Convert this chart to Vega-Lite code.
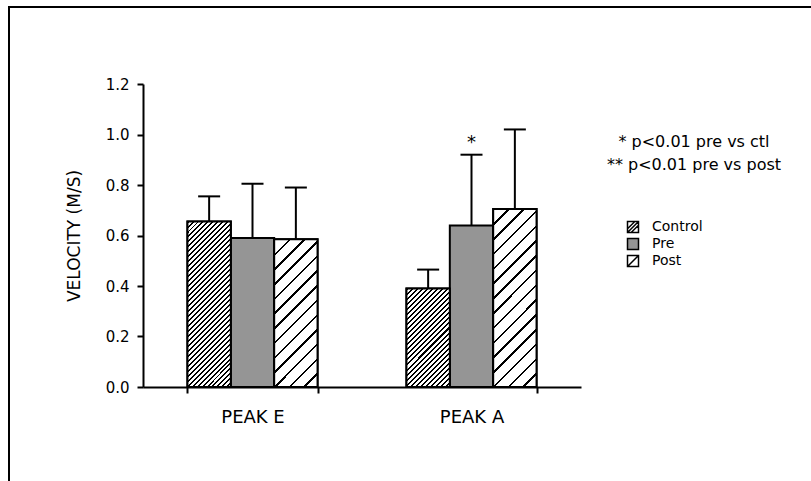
{
  "$schema": "https://vega.github.io/schema/vega-lite/v6.json",
  "width": 802,
  "height": 474,
  "autosize": {"type": "none"},
  "padding": {"left": 9, "top": 7, "right": 0, "bottom": 0},
  "background": "white",
  "config": {
    "font": "DejaVu Sans",
    "view": {"stroke": "black", "strokeWidth": 2, "strokeDash": [802, 1276, 474]},
    "axis": {"domainColor": "black", "domainWidth": 2, "tickColor": "black", "tickWidth": 2, "labelColor": "black", "titleColor": "black", "grid": false, "labelFont": "DejaVu Sans", "titleFont": "DejaVu Sans", "labelFontSize": 15, "titleFontSize": 17, "titleFontWeight": "normal"},
    "legend": {"labelFont": "DejaVu Sans", "labelFontSize": 15, "labelColor": "black"}
  },
  "data": {"values": [
    {"peak": "PEAK E", "group": "Control", "value": 0.655, "upper": 0.755, "sig": ""},
    {"peak": "PEAK E", "group": "Pre", "value": 0.59, "upper": 0.805, "sig": ""},
    {"peak": "PEAK E", "group": "Post", "value": 0.585, "upper": 0.79, "sig": ""},
    {"peak": "PEAK A", "group": "Control", "value": 0.39, "upper": 0.465, "sig": ""},
    {"peak": "PEAK A", "group": "Pre", "value": 0.64, "upper": 0.92, "sig": "*"},
    {"peak": "PEAK A", "group": "Post", "value": 0.705, "upper": 1.02, "sig": ""}
  ]},
  "layer": [
    {
      "mark": {"type": "bar", "stroke": "black", "strokeWidth": 2},
      "encoding": {
        "x": {"field": "peak", "type": "nominal", "scale": {"domain": ["PEAK E", "PEAK A"], "range": [134, 572], "paddingInner": 0.406, "paddingOuter": 0.203}, "axis": {"title": null, "orient": "bottom", "offset": -94, "tickBand": "extent", "tickSize": 6, "labelPadding": 15, "labelAngle": 0, "labelFontSize": 18}},
        "xOffset": {"field": "group", "type": "nominal", "scale": {"domain": ["Control", "Pre", "Post"]}},
        "y": {"field": "value", "type": "quantitative", "scale": {"domain": [0, 1.2], "range": [380, 77], "nice": false}, "axis": {"title": "VELOCITY (M/S)", "offset": -134, "values": [0, 0.1, 0.2, 0.3, 0.4, 0.5, 0.6, 0.7, 0.8, 0.9, 1, 1.1, 1.2], "labelExpr": "round(datum.value*10) % 2 === 0 ? format(datum.value, '.1f') : ''", "tickSize": 6, "labelPadding": 8, "titlePadding": 22, "labelOverlap": false, "labelFlush": false}},
        "fill": {"field": "group", "type": "nominal", "scale": {"domain": ["Control", "Pre", "Post"], "range": ["#ffffff", "#959595", "#ffffff"]}, "legend": {"title": null, "orient": "none", "legendX": 617, "legendY": 213, "direction": "vertical", "symbolSize": 121, "symbolStrokeColor": "black", "symbolStrokeWidth": 1.5, "labelOffset": 12, "rowPadding": -1, "padding": 0, "labelFontSize": 14, "encode": {"symbols": {"update": {"shape": {"signal": "datum.value === 'Control' ? 'M-1,-1H1V1H-1Z M-1,0.33L0.33,-1 M-1,1L1,-1 M-0.33,1L1,-0.33' : datum.value === 'Post' ? 'M-1,-1H1V1H-1Z M-1,1L1,-1' : 'square'"}, "stroke": {"value": "black"}, "strokeWidth": {"value": 1.5}}}}}}
      }
    },
    {
      "transform": [{"filter": "datum.peak === 'PEAK E' && datum.group === 'Control'"}],
      "mark": {"type": "bar", "stroke": "black", "strokeWidth": 2, "fill": {"gradient": "linear", "x1": 0, "y1": 0, "x2": 0.3102, "y2": 1.1813, "stops": [
        {"offset": 0, "color": "#000"}, {"offset": 0.00952, "color": "#000"}, {"offset": 0.00952, "color": "#fff"}, {"offset": 0.02381, "color": "#fff"},
        {"offset": 0.02381, "color": "#000"}, {"offset": 0.03333, "color": "#000"}, {"offset": 0.03333, "color": "#fff"}, {"offset": 0.04762, "color": "#fff"},
        {"offset": 0.04762, "color": "#000"}, {"offset": 0.05714, "color": "#000"}, {"offset": 0.05714, "color": "#fff"}, {"offset": 0.07143, "color": "#fff"},
        {"offset": 0.07143, "color": "#000"}, {"offset": 0.08095, "color": "#000"}, {"offset": 0.08095, "color": "#fff"}, {"offset": 0.09524, "color": "#fff"},
        {"offset": 0.09524, "color": "#000"}, {"offset": 0.10476, "color": "#000"}, {"offset": 0.10476, "color": "#fff"}, {"offset": 0.11905, "color": "#fff"},
        {"offset": 0.11905, "color": "#000"}, {"offset": 0.12857, "color": "#000"}, {"offset": 0.12857, "color": "#fff"}, {"offset": 0.14286, "color": "#fff"},
        {"offset": 0.14286, "color": "#000"}, {"offset": 0.15238, "color": "#000"}, {"offset": 0.15238, "color": "#fff"}, {"offset": 0.16667, "color": "#fff"},
        {"offset": 0.16667, "color": "#000"}, {"offset": 0.17619, "color": "#000"}, {"offset": 0.17619, "color": "#fff"}, {"offset": 0.19048, "color": "#fff"},
        {"offset": 0.19048, "color": "#000"}, {"offset": 0.2, "color": "#000"}, {"offset": 0.2, "color": "#fff"}, {"offset": 0.21429, "color": "#fff"},
        {"offset": 0.21429, "color": "#000"}, {"offset": 0.22381, "color": "#000"}, {"offset": 0.22381, "color": "#fff"}, {"offset": 0.2381, "color": "#fff"},
        {"offset": 0.2381, "color": "#000"}, {"offset": 0.24762, "color": "#000"}, {"offset": 0.24762, "color": "#fff"}, {"offset": 0.2619, "color": "#fff"},
        {"offset": 0.2619, "color": "#000"}, {"offset": 0.27143, "color": "#000"}, {"offset": 0.27143, "color": "#fff"}, {"offset": 0.28571, "color": "#fff"},
        {"offset": 0.28571, "color": "#000"}, {"offset": 0.29524, "color": "#000"}, {"offset": 0.29524, "color": "#fff"}, {"offset": 0.30952, "color": "#fff"},
        {"offset": 0.30952, "color": "#000"}, {"offset": 0.31905, "color": "#000"}, {"offset": 0.31905, "color": "#fff"}, {"offset": 0.33333, "color": "#fff"},
        {"offset": 0.33333, "color": "#000"}, {"offset": 0.34286, "color": "#000"}, {"offset": 0.34286, "color": "#fff"}, {"offset": 0.35714, "color": "#fff"},
        {"offset": 0.35714, "color": "#000"}, {"offset": 0.36667, "color": "#000"}, {"offset": 0.36667, "color": "#fff"}, {"offset": 0.38095, "color": "#fff"},
        {"offset": 0.38095, "color": "#000"}, {"offset": 0.39048, "color": "#000"}, {"offset": 0.39048, "color": "#fff"}, {"offset": 0.40476, "color": "#fff"},
        {"offset": 0.40476, "color": "#000"}, {"offset": 0.41429, "color": "#000"}, {"offset": 0.41429, "color": "#fff"}, {"offset": 0.42857, "color": "#fff"},
        {"offset": 0.42857, "color": "#000"}, {"offset": 0.4381, "color": "#000"}, {"offset": 0.4381, "color": "#fff"}, {"offset": 0.45238, "color": "#fff"},
        {"offset": 0.45238, "color": "#000"}, {"offset": 0.4619, "color": "#000"}, {"offset": 0.4619, "color": "#fff"}, {"offset": 0.47619, "color": "#fff"},
        {"offset": 0.47619, "color": "#000"}, {"offset": 0.48571, "color": "#000"}, {"offset": 0.48571, "color": "#fff"}, {"offset": 0.5, "color": "#fff"},
        {"offset": 0.5, "color": "#000"}, {"offset": 0.50952, "color": "#000"}, {"offset": 0.50952, "color": "#fff"}, {"offset": 0.52381, "color": "#fff"},
        {"offset": 0.52381, "color": "#000"}, {"offset": 0.53333, "color": "#000"}, {"offset": 0.53333, "color": "#fff"}, {"offset": 0.54762, "color": "#fff"},
        {"offset": 0.54762, "color": "#000"}, {"offset": 0.55714, "color": "#000"}, {"offset": 0.55714, "color": "#fff"}, {"offset": 0.57143, "color": "#fff"},
        {"offset": 0.57143, "color": "#000"}, {"offset": 0.58095, "color": "#000"}, {"offset": 0.58095, "color": "#fff"}, {"offset": 0.59524, "color": "#fff"},
        {"offset": 0.59524, "color": "#000"}, {"offset": 0.60476, "color": "#000"}, {"offset": 0.60476, "color": "#fff"}, {"offset": 0.61905, "color": "#fff"},
        {"offset": 0.61905, "color": "#000"}, {"offset": 0.62857, "color": "#000"}, {"offset": 0.62857, "color": "#fff"}, {"offset": 0.64286, "color": "#fff"},
        {"offset": 0.64286, "color": "#000"}, {"offset": 0.65238, "color": "#000"}, {"offset": 0.65238, "color": "#fff"}, {"offset": 0.66667, "color": "#fff"},
        {"offset": 0.66667, "color": "#000"}, {"offset": 0.67619, "color": "#000"}, {"offset": 0.67619, "color": "#fff"}, {"offset": 0.69048, "color": "#fff"},
        {"offset": 0.69048, "color": "#000"}, {"offset": 0.7, "color": "#000"}, {"offset": 0.7, "color": "#fff"}, {"offset": 0.71429, "color": "#fff"},
        {"offset": 0.71429, "color": "#000"}, {"offset": 0.72381, "color": "#000"}, {"offset": 0.72381, "color": "#fff"}, {"offset": 0.7381, "color": "#fff"},
        {"offset": 0.7381, "color": "#000"}, {"offset": 0.74762, "color": "#000"}, {"offset": 0.74762, "color": "#fff"}, {"offset": 0.7619, "color": "#fff"},
        {"offset": 0.7619, "color": "#000"}, {"offset": 0.77143, "color": "#000"}, {"offset": 0.77143, "color": "#fff"}, {"offset": 0.78571, "color": "#fff"},
        {"offset": 0.78571, "color": "#000"}, {"offset": 0.79524, "color": "#000"}, {"offset": 0.79524, "color": "#fff"}, {"offset": 0.80952, "color": "#fff"},
        {"offset": 0.80952, "color": "#000"}, {"offset": 0.81905, "color": "#000"}, {"offset": 0.81905, "color": "#fff"}, {"offset": 0.83333, "color": "#fff"},
        {"offset": 0.83333, "color": "#000"}, {"offset": 0.84286, "color": "#000"}, {"offset": 0.84286, "color": "#fff"}, {"offset": 0.85714, "color": "#fff"},
        {"offset": 0.85714, "color": "#000"}, {"offset": 0.86667, "color": "#000"}, {"offset": 0.86667, "color": "#fff"}, {"offset": 0.88095, "color": "#fff"},
        {"offset": 0.88095, "color": "#000"}, {"offset": 0.89048, "color": "#000"}, {"offset": 0.89048, "color": "#fff"}, {"offset": 0.90476, "color": "#fff"},
        {"offset": 0.90476, "color": "#000"}, {"offset": 0.91429, "color": "#000"}, {"offset": 0.91429, "color": "#fff"}, {"offset": 0.92857, "color": "#fff"},
        {"offset": 0.92857, "color": "#000"}, {"offset": 0.9381, "color": "#000"}, {"offset": 0.9381, "color": "#fff"}, {"offset": 0.95238, "color": "#fff"},
        {"offset": 0.95238, "color": "#000"}, {"offset": 0.9619, "color": "#000"}, {"offset": 0.9619, "color": "#fff"}, {"offset": 0.97619, "color": "#fff"},
        {"offset": 0.97619, "color": "#000"}, {"offset": 0.98571, "color": "#000"}, {"offset": 0.98571, "color": "#fff"}, {"offset": 1, "color": "#fff"}
      ]}},
      "encoding": {
        "x": {"field": "peak", "type": "nominal", "scale": {"domain": ["PEAK E", "PEAK A"]}},
        "xOffset": {"field": "group", "type": "nominal", "scale": {"domain": ["Control", "Pre", "Post"]}},
        "y": {"field": "value", "type": "quantitative"}
      }
    },
    {
      "transform": [{"filter": "datum.peak === 'PEAK A' && datum.group === 'Control'"}],
      "mark": {"type": "bar", "stroke": "black", "strokeWidth": 2, "fill": {"gradient": "linear", "x1": 0, "y1": 0, "x2": 0.5313, "y2": 1.2058, "stops": [
        {"offset": 0, "color": "#000"}, {"offset": 0.01429, "color": "#000"}, {"offset": 0.01429, "color": "#fff"}, {"offset": 0.03571, "color": "#fff"},
        {"offset": 0.03571, "color": "#000"}, {"offset": 0.05, "color": "#000"}, {"offset": 0.05, "color": "#fff"}, {"offset": 0.07143, "color": "#fff"},
        {"offset": 0.07143, "color": "#000"}, {"offset": 0.08571, "color": "#000"}, {"offset": 0.08571, "color": "#fff"}, {"offset": 0.10714, "color": "#fff"},
        {"offset": 0.10714, "color": "#000"}, {"offset": 0.12143, "color": "#000"}, {"offset": 0.12143, "color": "#fff"}, {"offset": 0.14286, "color": "#fff"},
        {"offset": 0.14286, "color": "#000"}, {"offset": 0.15714, "color": "#000"}, {"offset": 0.15714, "color": "#fff"}, {"offset": 0.17857, "color": "#fff"},
        {"offset": 0.17857, "color": "#000"}, {"offset": 0.19286, "color": "#000"}, {"offset": 0.19286, "color": "#fff"}, {"offset": 0.21429, "color": "#fff"},
        {"offset": 0.21429, "color": "#000"}, {"offset": 0.22857, "color": "#000"}, {"offset": 0.22857, "color": "#fff"}, {"offset": 0.25, "color": "#fff"},
        {"offset": 0.25, "color": "#000"}, {"offset": 0.26429, "color": "#000"}, {"offset": 0.26429, "color": "#fff"}, {"offset": 0.28571, "color": "#fff"},
        {"offset": 0.28571, "color": "#000"}, {"offset": 0.3, "color": "#000"}, {"offset": 0.3, "color": "#fff"}, {"offset": 0.32143, "color": "#fff"},
        {"offset": 0.32143, "color": "#000"}, {"offset": 0.33571, "color": "#000"}, {"offset": 0.33571, "color": "#fff"}, {"offset": 0.35714, "color": "#fff"},
        {"offset": 0.35714, "color": "#000"}, {"offset": 0.37143, "color": "#000"}, {"offset": 0.37143, "color": "#fff"}, {"offset": 0.39286, "color": "#fff"},
        {"offset": 0.39286, "color": "#000"}, {"offset": 0.40714, "color": "#000"}, {"offset": 0.40714, "color": "#fff"}, {"offset": 0.42857, "color": "#fff"},
        {"offset": 0.42857, "color": "#000"}, {"offset": 0.44286, "color": "#000"}, {"offset": 0.44286, "color": "#fff"}, {"offset": 0.46429, "color": "#fff"},
        {"offset": 0.46429, "color": "#000"}, {"offset": 0.47857, "color": "#000"}, {"offset": 0.47857, "color": "#fff"}, {"offset": 0.5, "color": "#fff"},
        {"offset": 0.5, "color": "#000"}, {"offset": 0.51429, "color": "#000"}, {"offset": 0.51429, "color": "#fff"}, {"offset": 0.53571, "color": "#fff"},
        {"offset": 0.53571, "color": "#000"}, {"offset": 0.55, "color": "#000"}, {"offset": 0.55, "color": "#fff"}, {"offset": 0.57143, "color": "#fff"},
        {"offset": 0.57143, "color": "#000"}, {"offset": 0.58571, "color": "#000"}, {"offset": 0.58571, "color": "#fff"}, {"offset": 0.60714, "color": "#fff"},
        {"offset": 0.60714, "color": "#000"}, {"offset": 0.62143, "color": "#000"}, {"offset": 0.62143, "color": "#fff"}, {"offset": 0.64286, "color": "#fff"},
        {"offset": 0.64286, "color": "#000"}, {"offset": 0.65714, "color": "#000"}, {"offset": 0.65714, "color": "#fff"}, {"offset": 0.67857, "color": "#fff"},
        {"offset": 0.67857, "color": "#000"}, {"offset": 0.69286, "color": "#000"}, {"offset": 0.69286, "color": "#fff"}, {"offset": 0.71429, "color": "#fff"},
        {"offset": 0.71429, "color": "#000"}, {"offset": 0.72857, "color": "#000"}, {"offset": 0.72857, "color": "#fff"}, {"offset": 0.75, "color": "#fff"},
        {"offset": 0.75, "color": "#000"}, {"offset": 0.76429, "color": "#000"}, {"offset": 0.76429, "color": "#fff"}, {"offset": 0.78571, "color": "#fff"},
        {"offset": 0.78571, "color": "#000"}, {"offset": 0.8, "color": "#000"}, {"offset": 0.8, "color": "#fff"}, {"offset": 0.82143, "color": "#fff"},
        {"offset": 0.82143, "color": "#000"}, {"offset": 0.83571, "color": "#000"}, {"offset": 0.83571, "color": "#fff"}, {"offset": 0.85714, "color": "#fff"},
        {"offset": 0.85714, "color": "#000"}, {"offset": 0.87143, "color": "#000"}, {"offset": 0.87143, "color": "#fff"}, {"offset": 0.89286, "color": "#fff"},
        {"offset": 0.89286, "color": "#000"}, {"offset": 0.90714, "color": "#000"}, {"offset": 0.90714, "color": "#fff"}, {"offset": 0.92857, "color": "#fff"},
        {"offset": 0.92857, "color": "#000"}, {"offset": 0.94286, "color": "#000"}, {"offset": 0.94286, "color": "#fff"}, {"offset": 0.96429, "color": "#fff"},
        {"offset": 0.96429, "color": "#000"}, {"offset": 0.97857, "color": "#000"}, {"offset": 0.97857, "color": "#fff"}, {"offset": 1, "color": "#fff"}
      ]}},
      "encoding": {
        "x": {"field": "peak", "type": "nominal", "scale": {"domain": ["PEAK E", "PEAK A"]}},
        "xOffset": {"field": "group", "type": "nominal", "scale": {"domain": ["Control", "Pre", "Post"]}},
        "y": {"field": "value", "type": "quantitative"}
      }
    },
    {
      "transform": [{"filter": "datum.peak === 'PEAK E' && datum.group === 'Post'"}],
      "mark": {"type": "bar", "stroke": "black", "strokeWidth": 2, "fill": {"gradient": "linear", "x1": 0, "y1": 0, "x2": 0.3502, "y2": 1.1912, "stops": [
        {"offset": 0, "color": "#000"}, {"offset": 0.01308, "color": "#000"}, {"offset": 0.01308, "color": "#fff"}, {"offset": 0.07692, "color": "#fff"},
        {"offset": 0.07692, "color": "#000"}, {"offset": 0.09, "color": "#000"}, {"offset": 0.09, "color": "#fff"}, {"offset": 0.15385, "color": "#fff"},
        {"offset": 0.15385, "color": "#000"}, {"offset": 0.16693, "color": "#000"}, {"offset": 0.16693, "color": "#fff"}, {"offset": 0.23077, "color": "#fff"},
        {"offset": 0.23077, "color": "#000"}, {"offset": 0.24385, "color": "#000"}, {"offset": 0.24385, "color": "#fff"}, {"offset": 0.30769, "color": "#fff"},
        {"offset": 0.30769, "color": "#000"}, {"offset": 0.32077, "color": "#000"}, {"offset": 0.32077, "color": "#fff"}, {"offset": 0.38462, "color": "#fff"},
        {"offset": 0.38462, "color": "#000"}, {"offset": 0.3977, "color": "#000"}, {"offset": 0.3977, "color": "#fff"}, {"offset": 0.46154, "color": "#fff"},
        {"offset": 0.46154, "color": "#000"}, {"offset": 0.47462, "color": "#000"}, {"offset": 0.47462, "color": "#fff"}, {"offset": 0.53846, "color": "#fff"},
        {"offset": 0.53846, "color": "#000"}, {"offset": 0.55154, "color": "#000"}, {"offset": 0.55154, "color": "#fff"}, {"offset": 0.61538, "color": "#fff"},
        {"offset": 0.61538, "color": "#000"}, {"offset": 0.62846, "color": "#000"}, {"offset": 0.62846, "color": "#fff"}, {"offset": 0.69231, "color": "#fff"},
        {"offset": 0.69231, "color": "#000"}, {"offset": 0.70539, "color": "#000"}, {"offset": 0.70539, "color": "#fff"}, {"offset": 0.76923, "color": "#fff"},
        {"offset": 0.76923, "color": "#000"}, {"offset": 0.78231, "color": "#000"}, {"offset": 0.78231, "color": "#fff"}, {"offset": 0.84615, "color": "#fff"},
        {"offset": 0.84615, "color": "#000"}, {"offset": 0.85923, "color": "#000"}, {"offset": 0.85923, "color": "#fff"}, {"offset": 0.92308, "color": "#fff"},
        {"offset": 0.92308, "color": "#000"}, {"offset": 0.93616, "color": "#000"}, {"offset": 0.93616, "color": "#fff"}, {"offset": 1, "color": "#fff"}
      ]}},
      "encoding": {
        "x": {"field": "peak", "type": "nominal", "scale": {"domain": ["PEAK E", "PEAK A"]}},
        "xOffset": {"field": "group", "type": "nominal", "scale": {"domain": ["Control", "Pre", "Post"]}},
        "y": {"field": "value", "type": "quantitative"}
      }
    },
    {
      "transform": [{"filter": "datum.peak === 'PEAK A' && datum.group === 'Post'"}],
      "mark": {"type": "bar", "stroke": "black", "strokeWidth": 2, "fill": {"gradient": "linear", "x1": 0, "y1": 0, "x2": 0.2864, "y2": 1.1742, "stops": [
        {"offset": 0, "color": "#000"}, {"offset": 0.01133, "color": "#000"}, {"offset": 0.01133, "color": "#fff"}, {"offset": 0.06667, "color": "#fff"},
        {"offset": 0.06667, "color": "#000"}, {"offset": 0.078, "color": "#000"}, {"offset": 0.078, "color": "#fff"}, {"offset": 0.13333, "color": "#fff"},
        {"offset": 0.13333, "color": "#000"}, {"offset": 0.14466, "color": "#000"}, {"offset": 0.14466, "color": "#fff"}, {"offset": 0.2, "color": "#fff"},
        {"offset": 0.2, "color": "#000"}, {"offset": 0.21133, "color": "#000"}, {"offset": 0.21133, "color": "#fff"}, {"offset": 0.26667, "color": "#fff"},
        {"offset": 0.26667, "color": "#000"}, {"offset": 0.278, "color": "#000"}, {"offset": 0.278, "color": "#fff"}, {"offset": 0.33333, "color": "#fff"},
        {"offset": 0.33333, "color": "#000"}, {"offset": 0.34466, "color": "#000"}, {"offset": 0.34466, "color": "#fff"}, {"offset": 0.4, "color": "#fff"},
        {"offset": 0.4, "color": "#000"}, {"offset": 0.41133, "color": "#000"}, {"offset": 0.41133, "color": "#fff"}, {"offset": 0.46667, "color": "#fff"},
        {"offset": 0.46667, "color": "#000"}, {"offset": 0.478, "color": "#000"}, {"offset": 0.478, "color": "#fff"}, {"offset": 0.53333, "color": "#fff"},
        {"offset": 0.53333, "color": "#000"}, {"offset": 0.54466, "color": "#000"}, {"offset": 0.54466, "color": "#fff"}, {"offset": 0.6, "color": "#fff"},
        {"offset": 0.6, "color": "#000"}, {"offset": 0.61133, "color": "#000"}, {"offset": 0.61133, "color": "#fff"}, {"offset": 0.66667, "color": "#fff"},
        {"offset": 0.66667, "color": "#000"}, {"offset": 0.678, "color": "#000"}, {"offset": 0.678, "color": "#fff"}, {"offset": 0.73333, "color": "#fff"},
        {"offset": 0.73333, "color": "#000"}, {"offset": 0.74466, "color": "#000"}, {"offset": 0.74466, "color": "#fff"}, {"offset": 0.8, "color": "#fff"},
        {"offset": 0.8, "color": "#000"}, {"offset": 0.81133, "color": "#000"}, {"offset": 0.81133, "color": "#fff"}, {"offset": 0.86667, "color": "#fff"},
        {"offset": 0.86667, "color": "#000"}, {"offset": 0.878, "color": "#000"}, {"offset": 0.878, "color": "#fff"}, {"offset": 0.93333, "color": "#fff"},
        {"offset": 0.93333, "color": "#000"}, {"offset": 0.94466, "color": "#000"}, {"offset": 0.94466, "color": "#fff"}, {"offset": 1, "color": "#fff"}
      ]}},
      "encoding": {
        "x": {"field": "peak", "type": "nominal", "scale": {"domain": ["PEAK E", "PEAK A"]}},
        "xOffset": {"field": "group", "type": "nominal", "scale": {"domain": ["Control", "Pre", "Post"]}},
        "y": {"field": "value", "type": "quantitative"}
      }
    },
    {
      "mark": {"type": "rule", "strokeWidth": 2, "color": "black"},
      "encoding": {
        "x": {"field": "peak", "type": "nominal", "scale": {"domain": ["PEAK E", "PEAK A"]}},
        "xOffset": {"field": "group", "type": "nominal", "scale": {"domain": ["Control", "Pre", "Post"]}},
        "y": {"field": "value", "type": "quantitative"},
        "y2": {"field": "upper"}
      }
    },
    {
      "mark": {"type": "tick", "size": 22, "thickness": 2, "color": "black", "opacity": 1, "orient": "horizontal"},
      "encoding": {
        "x": {"field": "peak", "type": "nominal", "scale": {"domain": ["PEAK E", "PEAK A"]}},
        "xOffset": {"field": "group", "type": "nominal", "scale": {"domain": ["Control", "Pre", "Post"]}},
        "y": {"field": "upper", "type": "quantitative"}
      }
    },
    {
      "transform": [{"filter": "datum.sig === '*'"}],
      "mark": {"type": "text", "baseline": "bottom", "dy": -3, "fontSize": 18, "color": "black"},
      "encoding": {
        "x": {"field": "peak", "type": "nominal", "scale": {"domain": ["PEAK E", "PEAK A"]}},
        "xOffset": {"field": "group", "type": "nominal", "scale": {"domain": ["Control", "Pre", "Post"]}},
        "y": {"field": "upper", "type": "quantitative"},
        "text": {"field": "sig"}
      }
    },
    {
      "data": {"values": [{"note": "* p<0.01 pre vs ctl"}, {"note": "** p<0.01 pre vs post"}]},
      "mark": {"type": "point", "opacity": 0},
      "encoding": {
        "shape": {"field": "note", "type": "nominal", "legend": {"title": null, "orient": "none", "legendX": 669, "legendY": 127, "symbolOpacity": 0, "symbolSize": 1, "labelAlign": "center", "labelOffset": 0, "rowPadding": 7, "padding": 0, "labelLimit": 400, "labelFontSize": 16}}
      }
    }
  ]
}
